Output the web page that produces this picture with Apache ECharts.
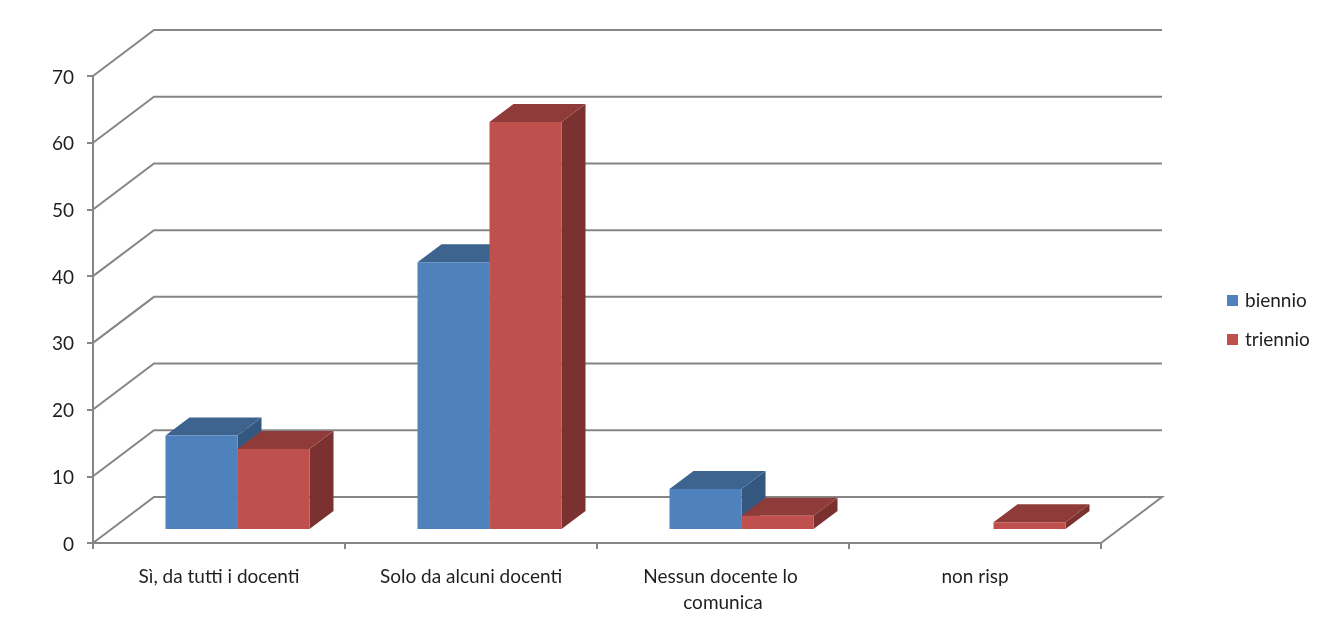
<!DOCTYPE html>
<html>
<head>
<meta charset="utf-8">
<style>html,body{margin:0;padding:0;background:#fff}#c{width:1333px;height:641px}</style>
<script src="https://cdn.jsdelivr.net/npm/echarts@6/dist/echarts.min.js"></script>
</head>
<body>
<div id="c"></div>
<script>
const categories = ['Sì, da tutti i docenti', 'Solo da alcuni docenti', 'Nessun docente lo comunica', 'non risp'];
const biennio = [14, 40, 6, 0];
const triennio = [12, 61, 2, 1];
const yTicks = [0, 10, 20, 30, 40, 50, 60, 70];

const FONT = 'Lato';
const TEXT = '#1f1f1f';
const AXIS = '#868686';
const LINE_W = 2;
const WALL = { dx: 61, dy: -46 };
const BASE = { dx: 18.5, dy: -14 };
const DEPTH = { dx: 24, dy: -18 };
const BAR_SHARE = 1 / 3.5;

function walls(params, api) {
  const cs = params.coordSys;
  const y = api.coord([0, api.value(1)])[1];
  const xL = cs.x, xR = cs.x + cs.width;
  const pts = [[xL, y], [xL + WALL.dx, y + WALL.dy], [xR + WALL.dx, y + WALL.dy]];
  if (api.value(1) === 0) pts.push([xR, y]);
  return {
    type: 'polyline',
    shape: { points: pts },
    style: { stroke: AXIS, lineWidth: LINE_W, fill: null }
  };
}

function bar3d(colors, side) {
  return function (params, api) {
    const v = api.value(1);
    if (!(v > 0)) return null;
    const w = api.size([1, 0])[0] * BAR_SHARE;
    const c = api.coord([api.value(0), v]);
    const b = api.coord([api.value(0), 0]);
    const x0 = c[0] + BASE.dx + (side < 0 ? -w : 0);
    const x1 = x0 + w;
    const yT = c[1] + BASE.dy;
    const yB = b[1] + BASE.dy;
    const d = DEPTH;
    return {
      type: 'group',
      children: [
        { type: 'polygon', shape: { points: [[x1, yT], [x1 + d.dx, yT + d.dy], [x1 + d.dx, yB + d.dy], [x1, yB]] }, style: { fill: colors.side } },
        { type: 'polygon', shape: { points: [[x0, yT], [x0 + d.dx, yT + d.dy], [x1 + d.dx, yT + d.dy], [x1, yT]] }, style: { fill: colors.top } },
        { type: 'rect', shape: { x: x0, y: yT, width: w, height: yB - yT }, style: { fill: colors.front } }
      ]
    };
  };
}

const chart = echarts.init(document.getElementById('c'), null, { renderer: 'canvas' });
chart.setOption({
  animation: false,
  backgroundColor: '#ffffff',
  textStyle: { fontFamily: FONT },
  grid: { left: 93, right: 232, top: 76, bottom: 98 },
  legend: {
    orient: 'vertical', left: 1222, top: 286,
    itemWidth: 11, itemHeight: 11, itemGap: 20,
    icon: 'rect', data: ['biennio', 'triennio'],
    textStyle: { fontFamily: FONT, fontSize: 19, color: TEXT, padding: [0, 0, 0, 2] }
  },
  xAxis: {
    type: 'category', data: categories,
    axisLine: { lineStyle: { color: AXIS, width: LINE_W } },
    axisTick: { show: true, length: 6, lineStyle: { color: AXIS, width: LINE_W } },
    axisLabel: {
      interval: 0, margin: 21, color: TEXT, fontFamily: FONT, fontSize: 19,
      lineHeight: 26, width: 200, overflow: 'break'
    }
  },
  yAxis: {
    type: 'value', min: 0, max: 70, interval: 10,
    splitLine: { show: false },
    axisLine: { show: true, lineStyle: { color: AXIS, width: LINE_W } },
    axisTick: { show: true, length: 6, lineStyle: { color: AXIS, width: LINE_W } },
    axisLabel: {
      margin: 19,
      formatter: '{n|{value}}',
      rich: { n: { color: TEXT, fontFamily: FONT, fontSize: 19, padding: [3, 0, 0, 0] } }
    }
  },
  series: [
    {
      type: 'custom', name: 'walls', silent: true, z: 1, clip: false,
      renderItem: walls, encode: { x: 0, y: 1 },
      data: yTicks.map(t => [0, t])
    },
    {
      type: 'custom', name: 'biennio', z: 2, clip: false,
      itemStyle: { color: '#4F81BD' },
      renderItem: bar3d({ front: '#4F81BD', top: '#3D638F', side: '#34577F' }, -1),
      encode: { x: 0, y: 1 },
      data: biennio.map((v, i) => [i, v])
    },
    {
      type: 'custom', name: 'triennio', z: 3, clip: false,
      itemStyle: { color: '#C0504D' },
      renderItem: bar3d({ front: '#C0504D', top: '#8F3B39', side: '#7A312F' }, 1),
      encode: { x: 0, y: 1 },
      data: triennio.map((v, i) => [i, v])
    }
  ]
});
</script>
</body>
</html>
